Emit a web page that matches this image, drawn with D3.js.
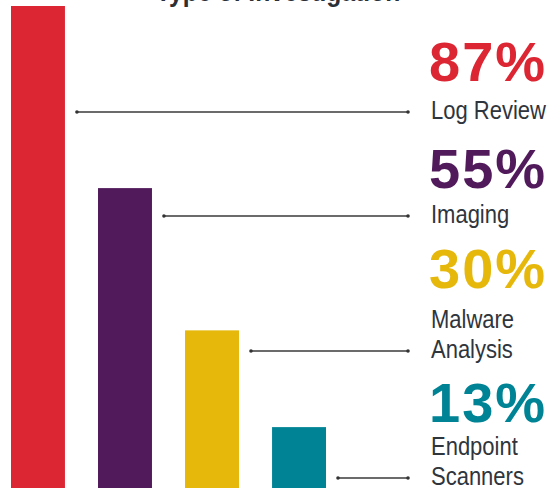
<!DOCTYPE html>
<html>
<head>
<meta charset="utf-8">
<script src="https://cdn.jsdelivr.net/npm/d3@7"></script>
<style>
  body { margin: 0; background: #fff; }
  svg { display: block; }
</style>
</head>
<body>
<div id="chart"></div>
<script>
// Chart data
const categories = ["Log Review", "Imaging", "Malware Analysis", "Endpoint Scanners"];
const values = [87, 55, 30, 13];
const labelLines = [["Log Review"], ["Imaging"], ["Malware", "Analysis"], ["Endpoint", "Scanners"]];
const colors = ["#dc2633", "#511a5b", "#e6b80c", "#008495"];
const title = "Type of Investigation";

// Layout
const width = 553, height = 490;
const baseY = 488;
const pctBaselines = [81, 188, 288, 422];
const labelBaselines = [119, 223, 328, 455];
const lineGap = 30;
const lineEndX = 408;
const labelX = 431;
const narrow = 0.88; // fake a condensed face

const svg = d3.select("#chart")
    .append("svg")
    .attr("width", width)
    .attr("height", height);

// Scales
const x = d3.scaleBand()
    .domain(categories)
    .range([11, 326])
    .paddingInner(0.38)
    .paddingOuter(0);

const y = d3.scaleLinear()
    .domain([2.3, 87])
    .range([baseY, 6]);

// Title (mostly cut off at the top)
svg.append("text")
    .attr("transform", `translate(278,1) scale(${narrow},1)`)
    .attr("text-anchor", "middle")
    .attr("font-family", "'Liberation Sans', Arial, sans-serif")
    .attr("font-weight", "bold")
    .attr("font-size", 28)
    .attr("fill", "#2b2f36")
    .text(title);

// Bars
svg.selectAll(".bar")
    .data(categories)
    .enter()
    .append("rect")
    .attr("class", "bar")
    .attr("x", d => x(d))
    .attr("y", (d, i) => y(values[i]))
    .attr("width", x.bandwidth())
    .attr("height", (d, i) => baseY - y(values[i]))
    .attr("fill", (d, i) => colors[i]);

// Labels + connector lines
categories.forEach((cat, i) => {
    svg.append("text")
        .attr("x", labelX - 2)
        .attr("y", pctBaselines[i])
        .attr("font-family", "'Liberation Sans', Arial, sans-serif")
        .attr("font-weight", "bold")
        .attr("font-size", 56)
        .attr("letter-spacing", 2)
        .attr("fill", colors[i])
        .text(values[i] + "%");

    const lines = labelLines[i];
    lines.forEach((ln, j) => {
        svg.append("text")
            .attr("transform", `translate(${labelX},${labelBaselines[i] + j * lineGap}) scale(${narrow},1)`)
            .attr("font-family", "'Liberation Sans', Arial, sans-serif")
            .attr("font-size", 25)
            .attr("fill", "#2f353c")
            .text(ln);
    });

    const ly = labelBaselines[i] + (lines.length - 1) * lineGap - 7;
    const x0 = x(cat) + x.bandwidth() + 12;
    svg.append("line")
        .attr("x1", x0)
        .attr("x2", lineEndX)
        .attr("y1", ly)
        .attr("y2", ly)
        .attr("stroke", "#3a3a3a")
        .attr("stroke-width", 1.4);
    [x0, lineEndX].forEach(cx => {
        svg.append("circle")
            .attr("cx", cx)
            .attr("cy", ly)
            .attr("r", 1.8)
            .attr("fill", "#333");
    });
});
</script>
</body>
</html>
